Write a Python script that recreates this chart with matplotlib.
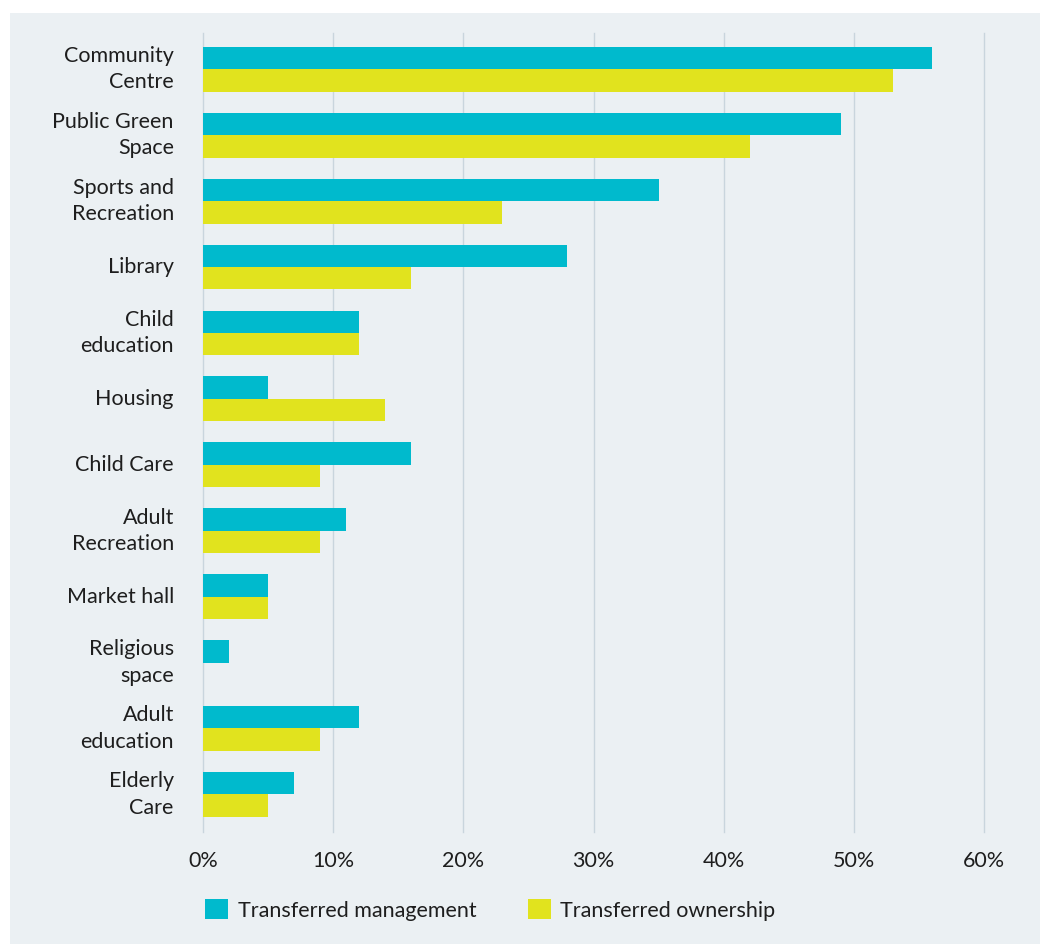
import numpy as np
import matplotlib.pyplot as plt
from matplotlib.patches import Rectangle

plt.rcParams['font.family'] = ['Lato', 'DejaVu Sans']

categories = ['Community\nCentre', 'Public Green\nSpace', 'Sports and\nRecreation', 'Library',
              'Child\neducation', 'Housing', 'Child Care', 'Adult\nRecreation', 'Market hall',
              'Religious\nspace', 'Adult\neducation', 'Elderly\nCare']
management = [56, 49, 35, 28, 12, 5, 16, 11, 5, 2, 12, 7]
ownership = [53, 42, 23, 16, 12, 14, 9, 9, 5, 0, 9, 5]
ticks = [0, 10, 20, 30, 40, 50, 60]

teal = '#00BACD'
yellow = '#E1E31E'
panel = '#EBF0F3'
grid = '#C9D5DD'
text = '#1E1E1E'
fs = 15.5

fig = plt.figure(figsize=(10.4, 9.44), dpi=100)
fig.patches.append(Rectangle((10 / 1040, 0), 1, 1 - 13 / 944, transform=fig.transFigure,
                             facecolor=panel, edgecolor='none', zorder=-10))

ax = fig.add_axes([203 / 1040, 1 - 832 / 944, (984 - 203) / 1040, (832 - 33) / 944])
ax.set_facecolor('none')

y = np.arange(len(categories))
h = 0.34
ax.barh(y - h / 2, management, height=h, color=teal, label='Transferred management', zorder=3)
ax.barh(y + h / 2, ownership, height=h, color=yellow, label='Transferred ownership', zorder=3)

ax.set_xlim(0, 60)
ax.set_ylim(11.57, -0.55)
ax.set_xticks(ticks)
ax.set_xticklabels([f'{t}%' for t in ticks])
ax.set_yticks(y)
ax.set_yticklabels(categories, linespacing=1.4, ha='right', va='center')

ax.grid(axis='x', color=grid, linewidth=1, zorder=0, clip_on=False)
for s in ax.spines.values():
    s.set_visible(False)
ax.tick_params(axis='both', length=0, labelsize=fs, colors=text)
ax.tick_params(axis='x', pad=14)
ax.tick_params(axis='y', pad=21)

fig.legend(loc='center left', bbox_to_anchor=(186 / 1040, 1 - 910 / 944), ncol=2, frameon=False,
           fontsize=fs, handlelength=1.05, handleheight=1.05, handletextpad=0.45,
           columnspacing=2.4, labelcolor=text)

fig.savefig('out.png', dpi=100, facecolor='white')
